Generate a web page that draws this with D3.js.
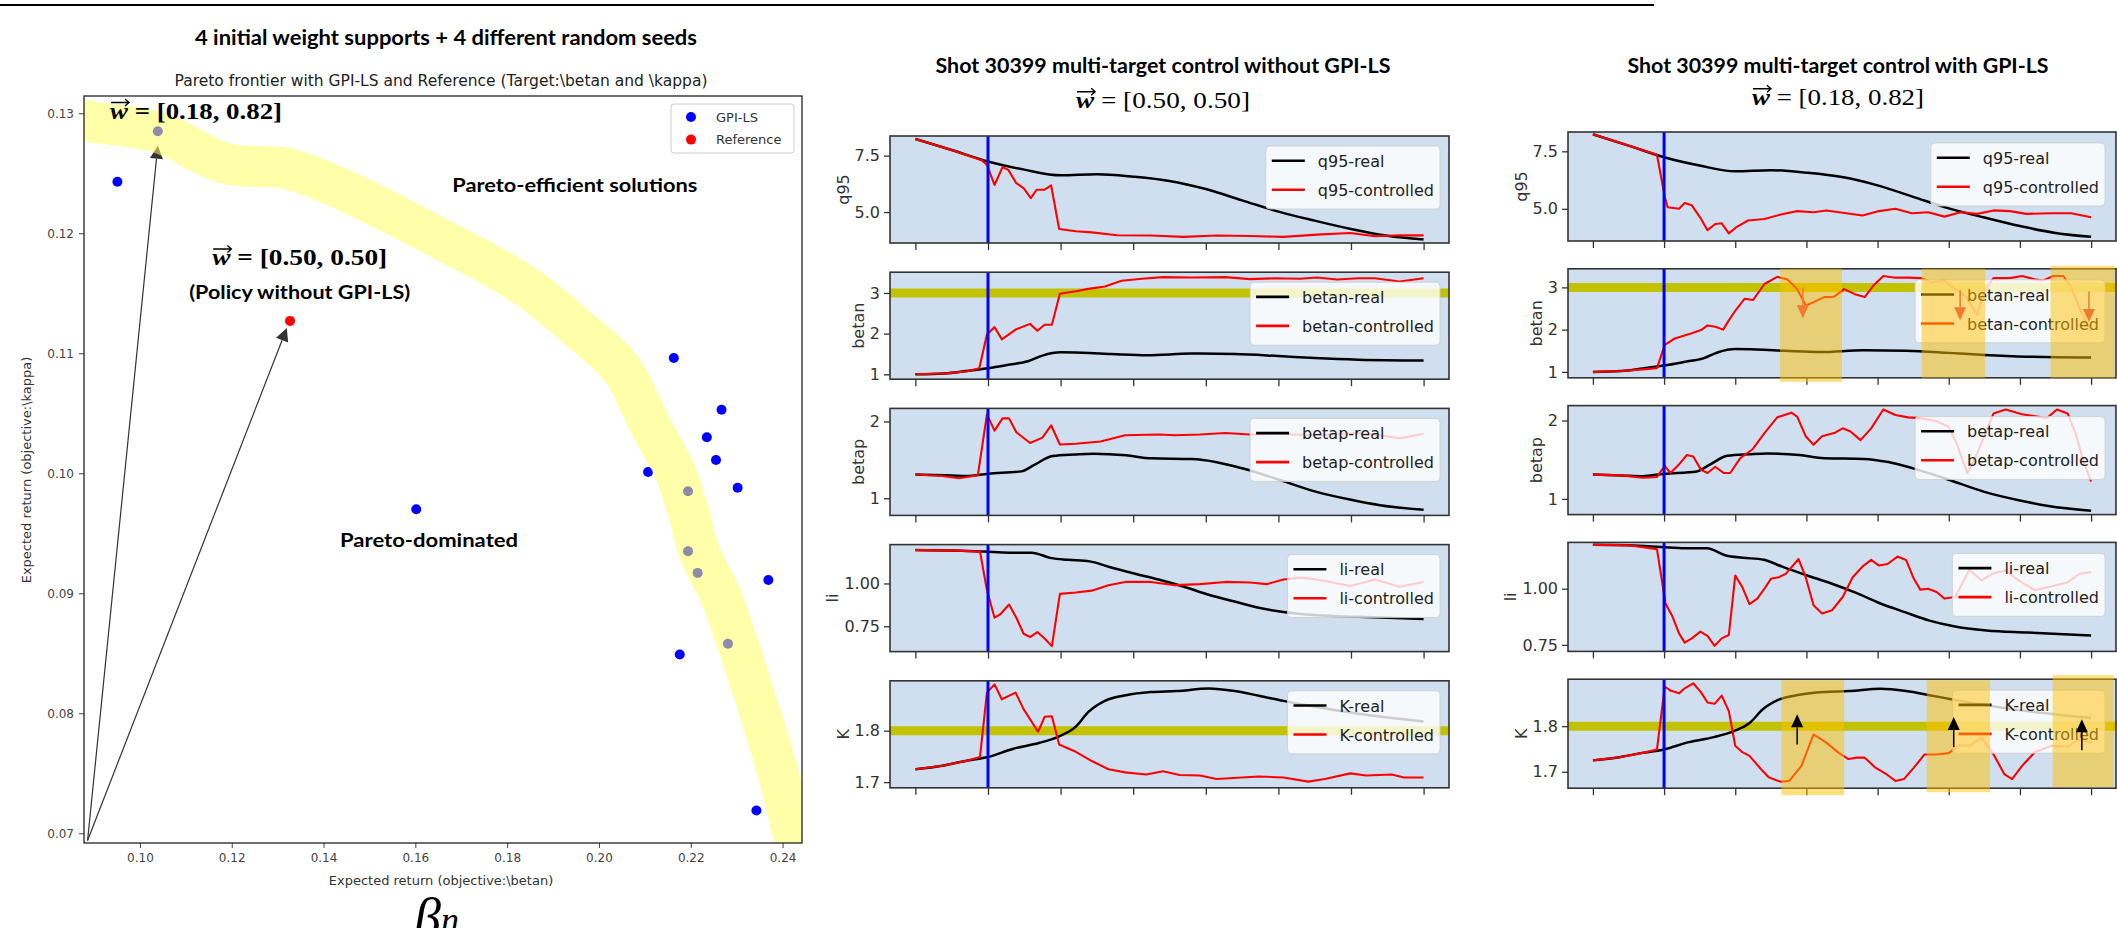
<!DOCTYPE html>
<html>
<head>
<meta charset="utf-8">
<title>GPI-LS Pareto frontier and multi-target control</title>
<script src="https://d3js.org/d3.v7.min.js"></script>
<style>
body { margin: 0; background: #fff; }
svg { display: block; font-family: "DejaVu Sans", sans-serif; }
</style>
</head>
<body>
<svg id="chart"></svg>
<script>

// ---------------- data: Pareto plot ----------------
var gpiX = [0.0951, 0.1602, 0.2107, 0.2163, 0.2267, 0.2235, 0.2255, 0.2302, 0.2176, 0.2369, 0.2343,
            0.1039, 0.2194, 0.2194, 0.2215, 0.2281];
var gpiY = [0.1243, 0.0970, 0.1001, 0.1096, 0.1053, 0.1030, 0.1011, 0.0988, 0.0849, 0.0911, 0.0719,
            0.1285, 0.0985, 0.0935, 0.0917, 0.0858];
var refX = [0.1327];
var refY = [0.1127];
// hand drawn highlight of the frontier (centre line)
var frontierX = [0.0869, 0.0892, 0.1040, 0.1188, 0.1319, 0.1438, 0.1666, 0.1836, 0.1950, 0.2047, 0.2113,
                 0.2166, 0.2193, 0.2218, 0.2267, 0.2303, 0.2337, 0.2377, 0.2411, 0.2434];
var frontierY = [0.1295, 0.1293, 0.1284, 0.1258, 0.1254, 0.1237, 0.1193, 0.1157, 0.1122, 0.1088, 0.1039,
                 0.1001, 0.0970, 0.0935, 0.0896, 0.0857, 0.0817, 0.0768, 0.0719, 0.0680];
var paretoXTicks = [0.10, 0.12, 0.14, 0.16, 0.18, 0.20, 0.22, 0.24];
var paretoYTicks = [0.07, 0.08, 0.09, 0.10, 0.11, 0.12, 0.13];
var paretoXDomain = [0.08782, 0.24423];
var paretoYDomain = [0.06919, 0.13144];
var arrowOrigin = [0.0886, 0.0694];
var arrowTips = [[0.1039, 0.1273], [0.1320, 0.1121]];

// ---------------- data: shot 30399 time traces ----------------
var varNames = ["q95", "betan", "betap", "li", "K"];
var xTicks = [0, 10, 20, 30, 40, 50, 60, 70];
var timeDomain = [-3.5, 73.5];
var controlStart = 10;
var targets = { betan: 3.0, K: 1.8 };
var yTicks = { q95: [5.0, 7.5], betan: [1, 2, 3], betap: [1, 2], li: [0.75, 1.00], K: [1.7, 1.8] };
var yFormats = { q95: ".1f", betan: "d", betap: "d", li: ".2f", K: ".1f" };

var q95Real = [[0,8.24],[5,7.75],[10,7.24],[15,6.88],[20,6.63],[25,6.68],[30,6.57],[35,6.38],[40,6.02],
  [45,5.52],[50,5.02],[55,4.62],[60,4.25],[65,3.95],[70,3.78]];
var betanReal = [[0,1.0],[4,1.02],[7,1.08],[10,1.15],[13,1.24],[15.5,1.32],[17.5,1.46],[20,1.54],[23,1.53],
  [27,1.50],[32,1.47],[38,1.51],[44,1.50],[50,1.45],[55,1.40],[61,1.36],[70,1.34]];
var betapReal = [[0,1.31],[4,1.30],[7,1.29],[10,1.32],[14.6,1.35],[16.3,1.43],[18.9,1.55],[22,1.57],[24.5,1.58],
  [29,1.56],[32.5,1.52],[38,1.51],[41.5,1.47],[45,1.39],[49.5,1.26],[55,1.09],[60,0.98],[64,0.91],[70,0.85]];
var liReal = [[0,1.195],[5,1.193],[9.5,1.186],[13,1.18],[16,1.18],[18.7,1.148],[21,1.138],[24,1.129],[26.6,1.098],
  [30,1.06],[33.5,1.023],[37,0.981],[40.4,0.934],[43.8,0.896],[47.3,0.858],[50.7,0.833],[55.3,0.814],[61,0.805],[70,0.792]];
var kReal = [[0,1.725],[3.7,1.732],[7.2,1.742],[10,1.749],[13.5,1.765],[17,1.776],[19.8,1.789],[22.1,1.808],
  [23.8,1.836],[26.1,1.858],[29,1.869],[32.4,1.875],[36,1.877],[40.4,1.882],[44,1.877],[47.3,1.868],[50.7,1.858],
  [55.3,1.846],[61,1.833],[70,1.818]];

// without GPI-LS, w = [0.50, 0.50]
var q95CtrlMid = [[0,8.24],[5,7.75],[9.2,7.28],[9.85,7.09],[10.9,6.2],[12.0,6.99],[12.8,6.87],[13.9,6.28],[14.9,6.06],
  [15.9,5.62],[16.7,5.99],[17.8,5.99],[18.7,6.18],[19.8,4.25],[22.1,4.15],[24.3,4.1],[27.8,3.97],[32.4,3.96],
  [36.9,3.9],[41.5,3.96],[46.1,3.94],[50.7,3.9],[55.3,4.0],[59.9,4.07],[63.3,3.93],[66.7,3.97],[70,3.97]];
var betanCtrlMid = [[0,1.0],[4,1.02],[7,1.07],[8.8,1.15],[9.85,1.98],[10.9,2.16],[11.9,1.86],[13.9,2.11],[15.8,2.24],
  [16.8,2.07],[17.8,2.22],[18.8,2.22],[19.9,2.98],[22.1,3.04],[23.8,3.1],[26.1,3.16],[28.4,3.3],[31.2,3.35],
  [34.1,3.39],[38.1,3.38],[42.7,3.39],[46.1,3.34],[49.5,3.36],[53,3.35],[55.3,3.38],[58.1,3.33],[61,3.36],
  [63.3,3.36],[66.7,3.28],[70,3.36]];
var betapCtrlMid = [[0,1.31],[3.7,1.29],[6,1.26],[8.6,1.30],[9.85,2.09],[10.9,1.88],[12,2.04],[12.9,2.04],[13.9,1.86],
  [15.8,1.72],[17.5,1.79],[18.7,1.95],[19.9,1.70],[22.1,1.71],[25.5,1.74],[28.9,1.82],[33.5,1.83],[35.8,1.82],
  [39.2,1.83],[42.7,1.85],[46.1,1.83],[49.5,1.84],[55.3,1.82],[61,1.85],[63.9,1.82],[66.7,1.78],[70,1.84]];
var liCtrlMid = [[0,1.195],[5,1.193],[8.9,1.186],[9.85,0.962],[10.9,0.80],[11.7,0.82],[12.9,0.877],[13.9,0.80],
  [14.9,0.706],[15.8,0.687],[16.8,0.716],[17.8,0.678],[18.8,0.634],[19.9,0.939],[22.1,0.947],[24.3,0.958],
  [26.6,0.99],[28.9,1.009],[32.4,1.009],[35.8,0.99],[39.2,0.996],[42.7,1.009],[46.1,1.006],[48.4,0.996],
  [50.7,1.023],[53,1.034],[55.3,1.023],[59.9,0.985],[63.3,1.023],[66.7,0.981],[70,1.009]];
var kCtrlMid = [[0,1.725],[3.7,1.732],[7.2,1.742],[8.9,1.749],[9.85,1.874],[10.9,1.89],[11.9,1.861],[13.8,1.874],
  [14.9,1.842],[16.9,1.798],[17.8,1.827],[18.8,1.828],[19.8,1.773],[22.1,1.759],[24.3,1.741],[26.6,1.725],
  [28.9,1.719],[31.8,1.715],[34.1,1.721],[36.4,1.714],[39.2,1.713],[41.5,1.706],[43.8,1.708],[47.3,1.711],
  [50.7,1.709],[54.1,1.701],[56.4,1.706],[59.9,1.717],[62.1,1.713],[65.6,1.715],[67.3,1.709],[70,1.709]];

// with GPI-LS, w = [0.18, 0.82]
var q95CtrlRight = [[0,8.24],[5,7.75],[9,7.35],[10.1,5.51],[10.5,5.07],[12.1,5.0],[12.9,5.25],[13.9,5.15],[15.2,4.56],
  [16.1,4.07],[17.2,4.34],[18.1,4.37],[19.1,3.93],[20.1,4.19],[21.8,4.49],[24.1,4.56],[26.4,4.75],[28.7,4.9],
  [31,4.85],[32.8,4.93],[35.6,4.81],[37.9,4.71],[40.2,4.9],[42.5,5.0],[44.8,4.81],[47.1,4.85],[49.4,4.66],
  [51.7,4.85],[54,4.78],[56.3,4.93],[58.6,4.9],[60.9,4.78],[64.4,4.81],[67.2,4.81],[70,4.63]];
var betanCtrlRight = [[0,1.0],[4,1.02],[7,1.06],[9,1.09],[10.1,1.64],[11.5,1.79],[13.8,1.91],[15.2,1.99],[16.1,2.1],
  [17.2,2.07],[18.3,2.0],[19.1,2.22],[20.1,2.47],[21.3,2.73],[22.5,2.70],[24.1,3.08],[25.9,3.25],[27.3,3.19],
  [28.7,2.96],[29.9,2.57],[31,2.65],[32.5,2.77],[33.9,2.78],[35.3,2.96],[36.8,2.84],[38.2,2.77],[39.4,3.04],
  [40.8,3.27],[42.5,3.23],[44.3,3.23],[46,3.22],[47.7,3.12],[49.4,3.16],[50.9,2.96],[52.3,2.8],[54,2.35],
  [55,2.92],[56.3,3.22],[58.6,3.22],[60.3,3.27],[62.1,3.19],[63.2,3.16],[64.7,3.27],[66.1,3.27],[67.2,3.0],
  [68.4,2.5],[70,1.95]];
var betapCtrlRight = [[0,1.31],[4,1.30],[7,1.27],[9,1.28],[10.1,1.42],[10.9,1.33],[12.1,1.44],[13.2,1.56],[14.1,1.54],
  [15.2,1.37],[16.1,1.33],[17.2,1.41],[18.4,1.33],[19.3,1.33],[20.7,1.52],[22.4,1.63],[24.1,1.84],[25.9,2.04],
  [27.9,2.10],[28.7,2.05],[29.9,1.80],[31,1.69],[32.2,1.80],[33.9,1.84],[35.1,1.90],[36.2,1.86],[37.6,1.75],
  [39.1,1.90],[40.8,2.14],[42.5,2.07],[44.3,2.04],[46,2.03],[48.3,1.99],[50,1.92],[51.1,1.71],[52.6,1.33],
  [54,1.58],[56.3,2.09],[58,2.14],[60.3,2.08],[62.4,2.05],[63.8,2.03],[65.2,2.14],[66.7,2.09],[67.8,1.84],
  [69,1.46],[70,1.22]];
var liCtrlRight = [[0,1.195],[5,1.193],[9,1.176],[10.2,0.934],[11.2,0.875],[12.1,0.801],[12.9,0.76],[13.9,0.779],
  [15.1,0.809],[16.1,0.79],[17.1,0.746],[18.1,0.779],[19.1,0.794],[20,1.059],[21,1.007],[22,0.931],[23.1,0.956],
  [24.1,1.0],[25,1.044],[26.1,1.051],[27.1,1.066],[28.9,1.132],[29.9,1.051],[31,0.926],[32.2,0.89],[33.6,0.904],
  [35.1,0.963],[36.5,1.051],[37.9,1.099],[39.1,1.128],[40.2,1.103],[41.4,1.11],[42.8,1.143],[44,1.128],
  [45.1,1.044],[46,0.996],[47.1,1.0],[48.3,0.985],[49.4,0.956],[50.9,0.963],[52.9,1.084],[54.6,1.037],
  [56.3,1.069],[58,1.081],[59.8,1.037],[62.1,0.993],[64.4,1.01],[66.7,1.029],[68.4,1.066],[70,1.074]];
var kCtrlRight = [[0,1.725],[3.7,1.732],[7.2,1.742],[9,1.749],[10.1,1.887],[10.9,1.878],[12.1,1.872],[12.9,1.883],
  [14.1,1.894],[15.2,1.874],[16.1,1.852],[17.1,1.849],[18.1,1.867],[19.1,1.833],[20,1.757],[21,1.743],[22,1.735],
  [23.6,1.706],[24.7,1.688],[26.4,1.678],[27.6,1.68],[29.3,1.713],[31,1.782],[32.8,1.764],[34.5,1.742],
  [35.9,1.728],[37.1,1.731],[38.2,1.731],[39.7,1.709],[41.4,1.693],[42.5,1.68],[43.7,1.684],[45.1,1.709],
  [46.6,1.738],[48.3,1.738],[50,1.741],[51.4,1.758],[52.9,1.757],[54.6,1.775],[56.3,1.738],[57.8,1.695],
  [58.9,1.684],[60.3,1.713],[62.1,1.743],[64.4,1.757],[66.7,1.755],[68.4,1.771],[70,1.764]];

var realSeries = { q95: q95Real, betan: betanReal, betap: betapReal, li: liReal, K: kReal };
var midCtrl = { q95: q95CtrlMid, betan: betanCtrlMid, betap: betapCtrlMid, li: liCtrlMid, K: kCtrlMid };
var rightCtrl = { q95: q95CtrlRight, betan: betanCtrlRight, betap: betapCtrlRight, li: liCtrlRight, K: kCtrlRight };
var midDomains = { q95: [3.63, 8.37], betan: [0.88, 3.51], betap: [0.777, 2.17], li: [0.602, 1.227], K: [1.689, 1.897] };
var rightDomains = { q95: [3.60, 8.34], betan: [0.86, 3.44], betap: [0.80, 2.19], li: [0.721, 1.206], K: [1.664, 1.903] };

// highlighted windows and arrows on the GPI-LS panel
var betanSpans = [[26.3, 35.0], [46.2, 55.1], [64.3, 73.3]];
var kSpans = [[26.5, 35.3], [46.9, 55.8], [64.6, 73.2]];
var betanArrowX = [29.5, 51.6, 69.7];
var betanArrowFrom = [3.0, 2.93, 2.9];
var betanArrowTo = [2.27, 2.22, 2.18];
var kArrowX = [28.7, 50.7, 68.7];
var kArrowFrom = [1.760, 1.754, 1.747];
var kArrowTo = [1.826, 1.820, 1.815];

// ---------------- drawing ----------------
var svg = d3.select("#chart").attr("width", 2117).attr("height", 928);
var calibri = "Lato, 'Open Sans', sans-serif";
var serif = "'Liberation Serif', 'DejaVu Serif', serif";

svg.append("line").attr("x1", 0).attr("x2", 1654).attr("y1", 5).attr("y2", 5)
  .attr("stroke", "#000").attr("stroke-width", 2);

function drawArrow(g, x1, y1, x2, y2, color, headLen, headW, lw) {
  var ang = Math.atan2(y2 - y1, x2 - x1);
  var bx = x2 - headLen * Math.cos(ang), by = y2 - headLen * Math.sin(ang);
  g.append("line").attr("x1", x1).attr("y1", y1).attr("x2", bx).attr("y2", by)
    .attr("stroke", color).attr("stroke-width", lw);
  var nx = -Math.sin(ang) * headW / 2, ny = Math.cos(ang) * headW / 2;
  g.append("path")
    .attr("d", "M" + x2 + "," + y2 + "L" + (bx + nx) + "," + (by + ny) + "L" + (bx - nx) + "," + (by - ny) + "Z")
    .attr("fill", color);
}

function boldText(g, x, y, txt, size, width, anchor) {
  var t = g.append("text").attr("x", x).attr("y", y).attr("text-anchor", anchor || "middle")
    .style("font-family", calibri).style("font-weight", "bold").style("font-size", size + "px")
    .attr("fill", "#000").text(txt);
  if (width) t.attr("textLength", width).attr("lengthAdjust", "spacingAndGlyphs");
  return t;
}

// vector w with an arrow over it
function vecText(g, x, y, anchor, size, boldNums, rest, width) {
  var t = g.append("text").attr("x", x).attr("y", y).attr("text-anchor", anchor)
    .style("font-family", serif).style("font-size", size + "px").attr("fill", "#000");
  t.append("tspan").text("w").style("font-style", "italic").style("font-weight", "bold");
  t.append("tspan").text(" = " + rest).style("font-weight", boldNums ? "bold" : "normal");
  if (width) t.attr("textLength", width).attr("lengthAdjust", "spacingAndGlyphs");
  var n = t.node();
  var a = n.getStartPositionOfChar(0).x, b = n.getEndPositionOfChar(0).x;
  var ay = y - size * 0.68;
  g.append("path")
    .attr("d", "M" + (a + 1) + "," + ay + "H" + (b + 1) + "M" + (b - 3) + "," + (ay - 3.5) + "L" + (b + 1) + "," + ay + "L" + (b - 3) + "," + (ay + 3.5))
    .attr("fill", "none").attr("stroke", "#000").attr("stroke-width", 1.4);
}

// ---------- left: Pareto frontier ----------
(function () {
  var x0 = 84, x1 = 802, y0 = 96, y1 = 843;
  var x = d3.scaleLinear().domain(paretoXDomain).range([x0, x1]);
  var y = d3.scaleLinear().domain(paretoYDomain).range([y1, y0]);
  var g = svg.append("g");

  boldText(g, 446, 45, "4 initial weight supports + 4 different random seeds", 20, 502);
  g.append("text").attr("x", 441).attr("y", 86).attr("text-anchor", "middle")
    .style("font-size", "15.5px").attr("fill", "#222")
    .text("Pareto frontier with GPI-LS and Reference (Target:\\betan and \\kappa)");

  svg.append("clipPath").attr("id", "pclip").append("rect")
    .attr("x", x0).attr("y", y0).attr("width", x1 - x0).attr("height", y1 - y0);

  var xa = g.append("g").attr("transform", "translate(0," + y1 + ")")
    .call(d3.axisBottom(x).tickValues(paretoXTicks).tickFormat(d3.format(".2f")).tickSize(5).tickPadding(5));
  var ya = g.append("g").attr("transform", "translate(" + x0 + ",0)")
    .call(d3.axisLeft(y).tickValues(paretoYTicks).tickFormat(d3.format(".2f")).tickSize(5).tickPadding(5));
  [xa, ya].forEach(function (a) {
    a.select(".domain").remove();
    a.selectAll("line").attr("stroke", "#444");
    a.selectAll("text").style("font-size", "12px").style("font-family", "DejaVu Sans").attr("fill", "#444");
  });

  g.append("text").attr("x", 441).attr("y", 885).attr("text-anchor", "middle")
    .style("font-size", "13px").attr("fill", "#333").text("Expected return (objective:\\betan)");
  g.append("text").attr("transform", "translate(26,470) rotate(-90)").attr("text-anchor", "middle")
    .attr("dy", "0.35em").style("font-size", "13px").attr("fill", "#333")
    .text("Expected return (objective:\\kappa)");

  var pts = gpiX.map(function (v, i) { return [v, gpiY[i]]; });
  g.append("g").selectAll("circle").data(pts).join("circle")
    .attr("cx", function (d) { return x(d[0]); }).attr("cy", function (d) { return y(d[1]); })
    .attr("r", 5).attr("fill", "#0000ff");
  g.append("g").selectAll("circle").data(refX).join("circle")
    .attr("cx", function (d) { return x(d); }).attr("cy", function (d, i) { return y(refY[i]); })
    .attr("r", 5).attr("fill", "#ff0000");

  arrowTips.forEach(function (tp) {
    drawArrow(g, x(arrowOrigin[0]), y(arrowOrigin[1]), x(tp[0]), y(tp[1]), "#333", 13, 13, 1.2);
  });

  var band = frontierX.map(function (v, i) { return [v, frontierY[i]]; });
  g.append("path").datum(band).attr("clip-path", "url(#pclip)")
    .attr("d", d3.line().x(function (d) { return x(d[0]); }).y(function (d) { return y(d[1]); }).curve(d3.curveCatmullRom))
    .attr("fill", "none").attr("stroke", "#ffff64").attr("stroke-opacity", 0.55)
    .attr("stroke-width", 41).attr("stroke-linejoin", "round");

  g.append("rect").attr("x", x0).attr("y", y0).attr("width", x1 - x0).attr("height", y1 - y0)
    .attr("fill", "none").attr("stroke", "#222").attr("stroke-width", 1.3);

  vecText(g, x(0.0935), y(0.1302) + 8, "start", 24, true, "[0.18, 0.82]", 172);
  vecText(g, x(0.1348), y(0.1180) + 8, "middle", 24, true, "[0.50, 0.50]", 175);
  boldText(g, x(0.1348), y(0.11513) + 7, "(Policy without GPI-LS)", 19, 221);
  boldText(g, x(0.19473), y(0.12406) + 7, "Pareto-efficient solutions", 19, 245);
  boldText(g, x(0.16298), y(0.09448) + 7, "Pareto-dominated", 19, 178);

  // legend
  var lg = g.append("g");
  lg.append("rect").attr("x", 671).attr("y", 104).attr("width", 123).attr("height", 49).attr("rx", 3)
    .attr("fill", "#fff").attr("fill-opacity", 0.8).attr("stroke", "#ccc");
  [["GPI-LS", "#0000ff"], ["Reference", "#ff0000"]].forEach(function (e, i) {
    lg.append("circle").attr("cx", 691).attr("cy", 117 + i * 22.6).attr("r", 5).attr("fill", e[1]);
    lg.append("text").attr("x", 716).attr("y", 121.5 + i * 22.6).style("font-size", "13px")
      .attr("fill", "#333").text(e[0]);
  });

  // beta_n symbol, cut by the bottom edge as in the source figure
  var bt = g.append("text").attr("x", 414).attr("y", 936).style("font-family", serif)
    .style("font-style", "italic").style("font-size", "54px").attr("fill", "#000");
  bt.append("tspan").text("β");
  bt.append("tspan").attr("dy", -4).style("font-size", "36px").text("n");
})();

// ---------- time trace panels ----------
function drawPanel(cfg) {
  var x = d3.scaleLinear().domain(timeDomain).range([cfg.x0, cfg.x1]);
  var tw = cfg.x1 - cfg.x0;

  boldText(svg, cfg.titleX, cfg.titleY, cfg.title, 20, cfg.titleW);
  vecText(svg, cfg.titleX, cfg.wY, "middle", 24, false, cfg.w, cfg.wW);

  varNames.forEach(function (name, i) {
    var top = cfg.top + i * cfg.pitch, bot = top + cfg.h;
    var y = d3.scaleLinear().domain(cfg.domains[name]).range([bot, top]);
    var g = svg.append("g");
    var clipId = cfg.id + "clip" + i;
    svg.append("clipPath").attr("id", clipId).append("rect")
      .attr("x", cfg.x0).attr("y", top).attr("width", tw).attr("height", cfg.h);

    g.append("rect").attr("x", cfg.x0).attr("y", top).attr("width", tw).attr("height", cfg.h).attr("fill", "#cfdff0");
    var inner = g.append("g").attr("clip-path", "url(#" + clipId + ")");
    if (targets[name] != null) {
      inner.append("line").attr("x1", cfg.x0).attr("x2", cfg.x1)
        .attr("y1", y(targets[name])).attr("y2", y(targets[name]))
        .attr("stroke", "#c2c200").attr("stroke-width", 9);
    }
    var ln = d3.line().x(function (d) { return x(d[0]); }).y(function (d) { return y(d[1]); });
    inner.append("path").datum(realSeries[name]).attr("d", ln.curve(d3.curveMonotoneX))
      .attr("fill", "none").attr("stroke", "#000").attr("stroke-width", 2.5);
    inner.append("path").datum(cfg.ctrl[name]).attr("d", ln.curve(d3.curveLinear))
      .attr("fill", "none").attr("stroke", "#ff0000").attr("stroke-width", 2.1).attr("stroke-linejoin", "round");
    inner.append("line").attr("x1", x(controlStart)).attr("x2", x(controlStart)).attr("y1", top).attr("y2", bot)
      .attr("stroke", "#0000ff").attr("stroke-width", 3);

    // legend
    var lg = g.append("g");
    var labels = [name + "-real", name + "-controlled"];
    var colors = ["#000", "#ff0000"];
    var texts = labels.map(function (l, k) {
      return lg.append("text").attr("y", top + cfg.legTop + 20.7 + k * 29).style("font-size", "16px")
        .attr("fill", "#222").text(l);
    });
    var maxW = d3.max(texts, function (t) { return t.node().getComputedTextLength(); });
    var bw = 6 + 33 + 13 + maxW + 6;
    var bx = cfg.x1 - cfg.legRight - bw;
    lg.insert("rect", ":first-child").attr("x", bx).attr("y", top + cfg.legTop).attr("width", bw).attr("height", 63)
      .attr("rx", 4).attr("fill", "#fff").attr("fill-opacity", 0.8).attr("stroke", "#ccc").attr("stroke-opacity", 0.8);
    texts.forEach(function (t, k) {
      t.attr("x", bx + 6 + 33 + 13);
      lg.append("line").attr("x1", bx + 6).attr("x2", bx + 6 + 33)
        .attr("y1", top + cfg.legTop + 14.7 + k * 29).attr("y2", top + cfg.legTop + 14.7 + k * 29)
        .attr("stroke", colors[k]).attr("stroke-width", 2.6);
    });

    g.append("rect").attr("x", cfg.x0).attr("y", top).attr("width", tw).attr("height", cfg.h)
      .attr("fill", "none").attr("stroke", "#333").attr("stroke-width", 1.6);

    var ya = g.append("g").attr("transform", "translate(" + cfg.x0 + ",0)")
      .call(d3.axisLeft(y).tickValues(yTicks[name]).tickFormat(d3.format(yFormats[name])).tickSize(6).tickPadding(4));
    var xa = g.append("g").attr("transform", "translate(0," + bot + ")")
      .call(d3.axisBottom(x).tickValues(xTicks).tickFormat("").tickSize(7));
    [xa, ya].forEach(function (a) {
      a.select(".domain").remove();
      a.selectAll("line").attr("stroke", "#333").attr("stroke-width", 1.3);
      a.selectAll("text").style("font-size", "16px").style("font-family", "DejaVu Sans").attr("fill", "#333");
    });
    var bb = ya.node().getBBox();
    g.append("text").attr("transform", "translate(" + (cfg.x0 + bb.x - 6) + "," + (top + cfg.h / 2) + ") rotate(-90)")
      .attr("text-anchor", "middle").style("font-size", "16px").attr("fill", "#333").text(name);

    // highlighted windows (GPI-LS panel only)
    var spans = cfg.spans ? cfg.spans[name] : null;
    if (spans) {
      spans.forEach(function (s, k) {
        var ext = cfg.spanExt[name][k];
        g.append("rect").attr("x", x(s[0])).attr("width", x(s[1]) - x(s[0]))
          .attr("y", top + ext[0]).attr("height", cfg.h - ext[0] + ext[1])
          .attr("fill", "#ffc000").attr("fill-opacity", 0.5);
      });
      var ar = cfg.arrows[name];
      ar.x.forEach(function (ax, k) {
        drawArrow(g, x(ax), y(ar.from[k]), x(ax), y(ar.to[k]), ar.color, 13, 12, 1.5);
      });
    }
  });
}

drawPanel({
  id: "mid", x0: 890, x1: 1449, top: 136, pitch: 136.2, h: 107,
  domains: midDomains, ctrl: midCtrl, legTop: 10, legRight: 9,
  title: "Shot 30399 multi-target control without GPI-LS", titleX: 1163, titleY: 73, titleW: 455,
  w: "[0.50, 0.50]", wY: 108, wW: 174
});

drawPanel({
  id: "right", x0: 1568, x1: 2116, top: 132, pitch: 136.8, h: 109,
  domains: rightDomains, ctrl: rightCtrl, legTop: 11, legRight: 11,
  title: "Shot 30399 multi-target control with GPI-LS", titleX: 1838, titleY: 73, titleW: 421,
  w: "[0.18, 0.82]", wY: 105, wW: 172,
  spans: { betan: betanSpans, K: kSpans },
  spanExt: { betan: [[0, 4], [0, 0], [-3, 0]], K: [[1, 7], [1, 4], [-4, -1]] },
  arrows: {
    betan: { x: betanArrowX, from: betanArrowFrom, to: betanArrowTo, color: "#ee7b30" },
    K: { x: kArrowX, from: kArrowFrom, to: kArrowTo, color: "#000" }
  }
});

</script>
</body>
</html>
